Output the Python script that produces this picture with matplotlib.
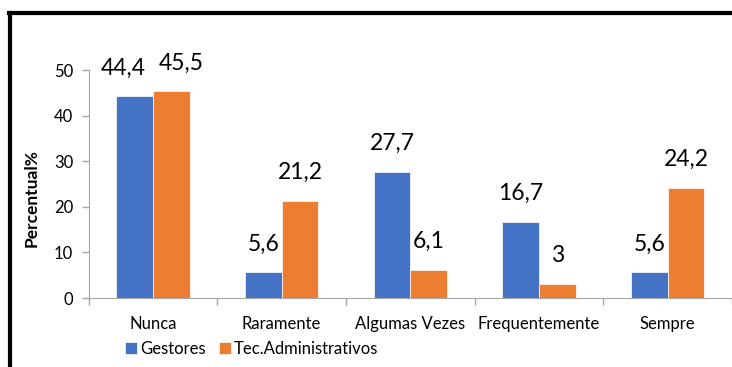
import matplotlib
matplotlib.use('Agg')
import matplotlib.pyplot as plt
import numpy as np
from matplotlib.lines import Line2D

plt.rcParams['font.family'] = ['Lato', 'DejaVu Sans']

categorias = ['Nunca', 'Raramente', 'Algumas Vezes', 'Frequentemente', 'Sempre']
gestores = [44.4, 5.6, 27.7, 16.7, 5.6]
tec_admin = [45.5, 21.2, 6.1, 3, 24.2]
rotulos_gestores = ['44,4', '5,6', '27,7', '16,7', '5,6']
rotulos_tec = ['45,5', '21,2', '6,1', '3', '24,2']

azul = '#4472C4'
laranja = '#ED7D31'

fig = plt.figure(figsize=(7.32, 3.67), dpi=100)
ax = fig.add_axes([0.121, 0.188, 0.879, 0.621])

x = np.arange(len(categorias))
w = 0.285
b1 = ax.bar(x - w / 2, gestores, w, color=azul, edgecolor='white', linewidth=0.5, label='Gestores')
b2 = ax.bar(x + w / 2, tec_admin, w, color=laranja, edgecolor='white', linewidth=0.5, label='Tec.Administrativos')

# rótulos de valor acima das barras; no primeiro grupo afastam-se para não se sobreporem
desloc_g = [-8, 0, 0, 0, 0]
desloc_t = [7, 0, 0, 0, 0]
for barras, rot, dx in [(b1, rotulos_gestores, desloc_g), (b2, rotulos_tec, desloc_t)]:
    for b, t, d in zip(barras, rot, dx):
        ax.annotate(t, (b.get_x() + b.get_width() / 2, b.get_height()),
                    xytext=(d, 12 if d else 13), textcoords='offset points',
                    ha='center', va='bottom', fontsize=16.5, color='black')

ax.set_xlim(-0.5, len(categorias) - 0.5)
ax.set_ylim(0, 50)
ax.set_yticks(range(0, 51, 10))
ax.set_xticks(x)
ax.set_xticklabels(categorias)
ax.set_xticks(np.arange(-0.5, len(categorias)), minor=True)
ax.tick_params(axis='x', which='major', length=0, pad=13, labelsize=12)
ax.tick_params(axis='x', which='minor', length=5, color='#A6A6A6', width=1)
ax.tick_params(axis='y', length=5, color='#A6A6A6', width=1, pad=6, labelsize=12)

for s in ['top', 'right']:
    ax.spines[s].set_visible(False)
ax.spines['left'].set_color('#A6A6A6')
ax.spines['bottom'].set_color('#A6A6A6')

ax.set_ylabel('Percentual%', fontsize=12.5, fontweight='bold')
ax.yaxis.set_label_coords(-0.076, 0.44)

fig.legend(loc='center left', bbox_to_anchor=(125 / 732, 1 - 349 / 367), ncol=2, frameon=False,
           fontsize=12, handlelength=0.7, handleheight=0.7, handletextpad=0.2,
           columnspacing=0.8, borderaxespad=0, borderpad=0)

# moldura preta (topo e lado esquerdo)
fig.add_artist(Line2D([10 / 732, 10 / 732], [0, 1 - 13 / 367], color='black', lw=3, transform=fig.transFigure))
fig.add_artist(Line2D([9 / 732, 1], [1 - 13 / 367, 1 - 13 / 367], color='black', lw=3, transform=fig.transFigure))

fig.savefig('out.png', dpi=100)
